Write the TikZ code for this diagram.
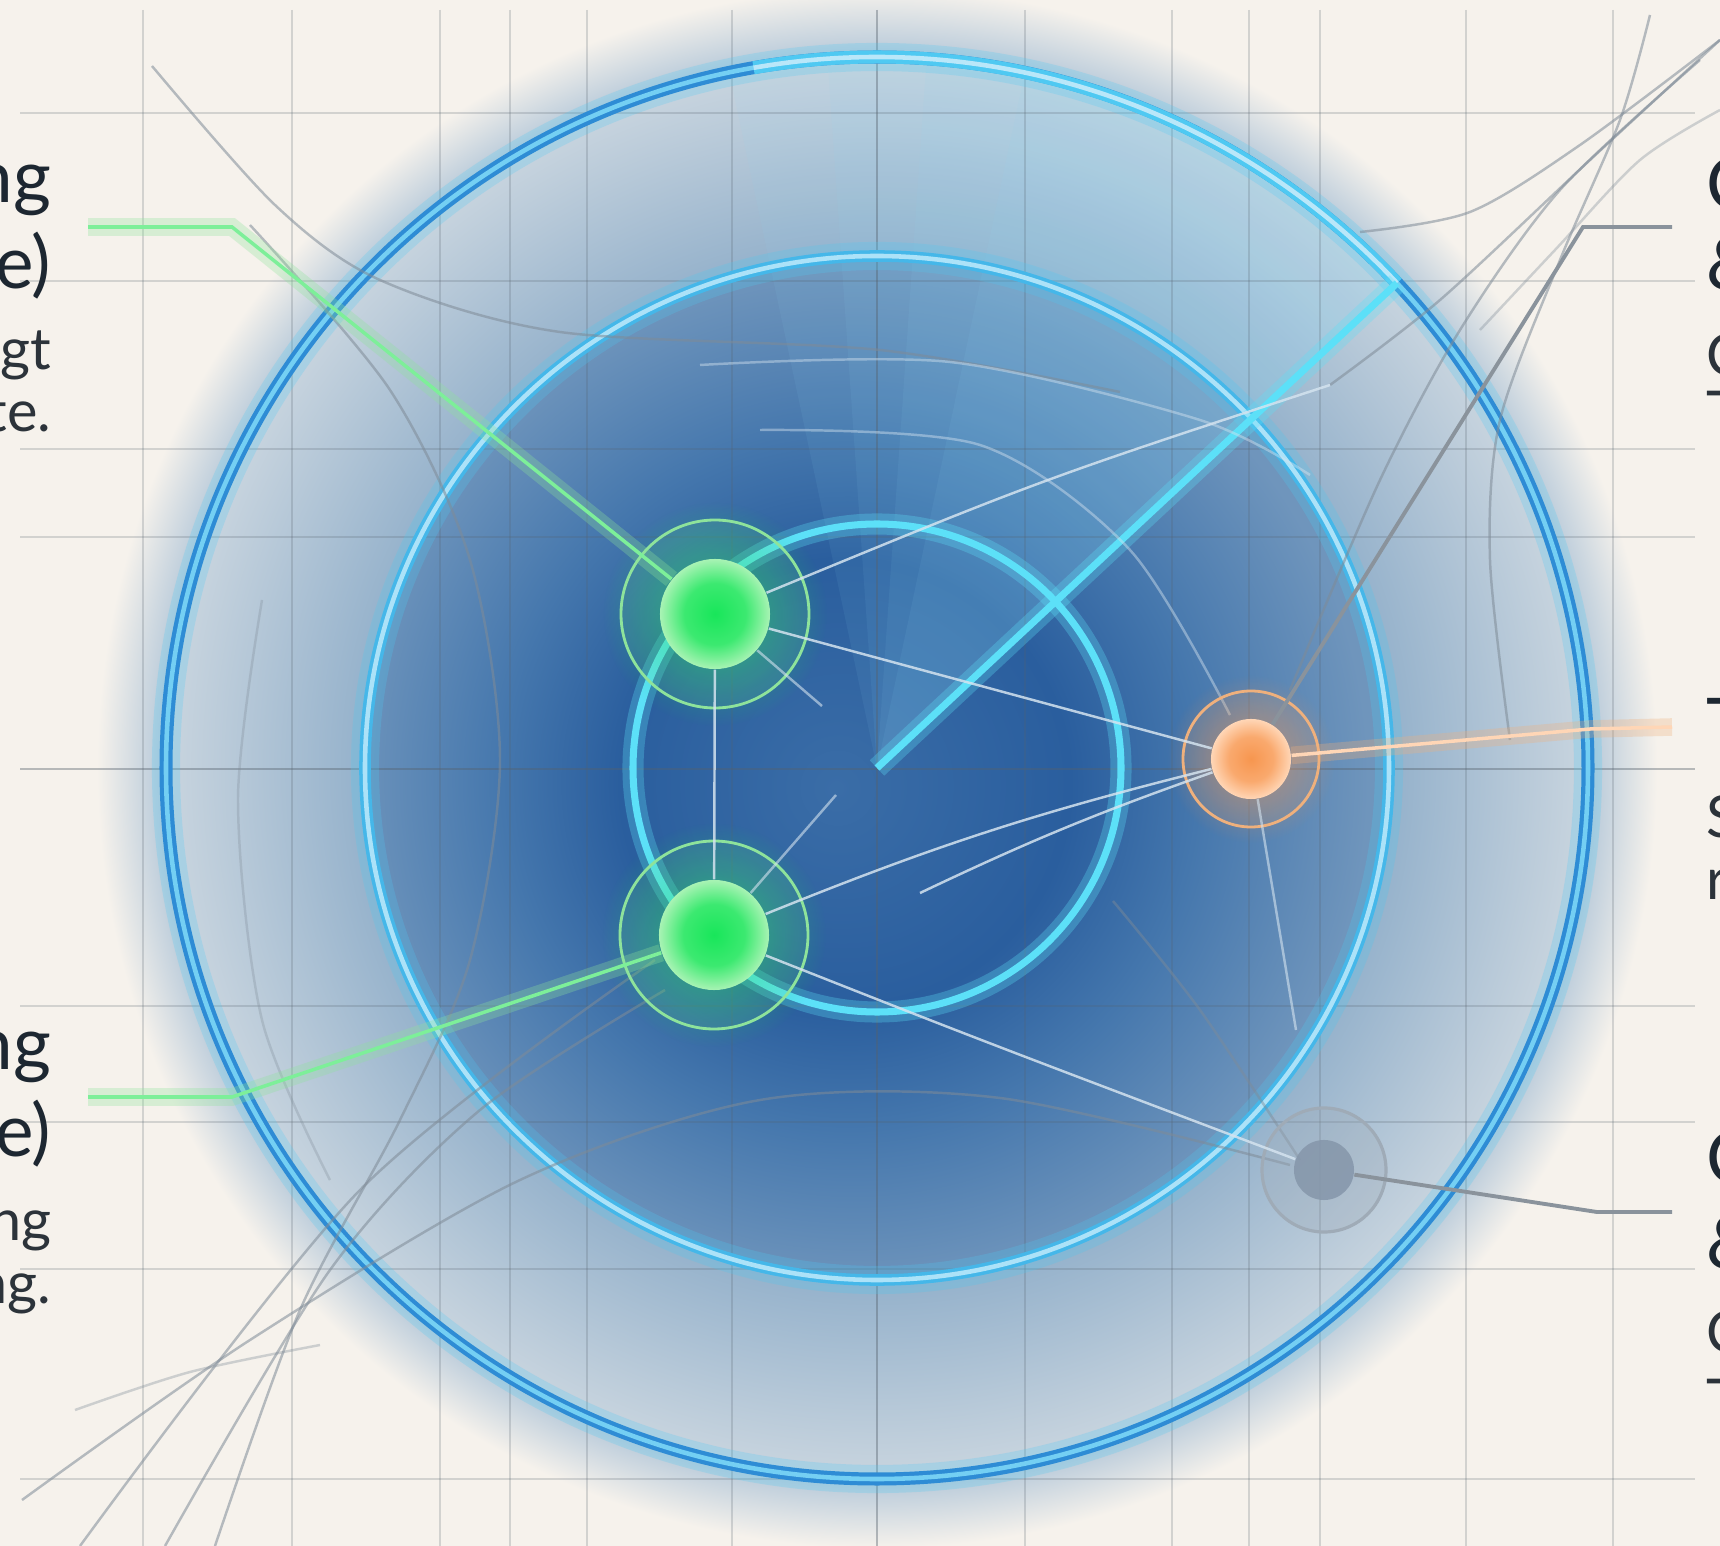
\documentclass[tikz,border=0pt]{standalone}
\usepackage{fontspec}
\setmainfont{Lato}
\usetikzlibrary{positioning,fadings}

\definecolor{paper}{HTML}{F6F2EC}
\definecolor{gridc}{HTML}{56616C}
\definecolor{hazeA}{HTML}{B5C8D9}
\definecolor{annOut}{HTML}{C9D5DF}
\definecolor{annIn}{HTML}{94B1CB}
\definecolor{diskEdge}{HTML}{6F95BC}
\definecolor{diskMid}{HTML}{4577AD}
\definecolor{diskDark}{HTML}{2A5E9E}
\definecolor{ringDark}{HTML}{2E8CD5}
\definecolor{ringLight}{HTML}{74CFF3}
\definecolor{ringCyan}{HTML}{4FC9F2}
\definecolor{cyanLine}{HTML}{5CE0F8}
\definecolor{wedgeC}{HTML}{8FD8F6}
\definecolor{greenCore}{HTML}{18E65A}
\definecolor{greenEdge}{HTML}{A8F3B4}
\definecolor{greenHalo}{HTML}{8EE39B}
\definecolor{orangeCore}{HTML}{F7964F}
\definecolor{orangeEdge}{HTML}{FFD6B6}
\definecolor{orangeHalo}{HTML}{EFB07C}
\definecolor{grayDot}{HTML}{8596AA}
\definecolor{grayHalo}{HTML}{9FABB7}
\definecolor{flowc}{HTML}{7F8B97}
\definecolor{threadc}{HTML}{D4E3EF}
\definecolor{wireGray}{HTML}{8A939C}
\definecolor{inkTitle}{HTML}{1D2731}
\definecolor{inkBody}{HTML}{2C333A}

% radial shadings: 25bp is the rim of the shaded path
\pgfdeclareradialshading{haze}{\pgfpoint{0bp}{0bp}}{color(0bp)=(hazeA); color(22.8bp)=(hazeA); color(25bp)=(paper); color(50bp)=(paper)}
\pgfdeclareradialshading{annulus}{\pgfpoint{0bp}{0bp}}{color(0bp)=(annIn); color(18bp)=(annIn); color(25bp)=(annOut); color(50bp)=(annOut)}
\pgfdeclareradialshading{core}{\pgfpoint{-2bp}{-1bp}}{color(0bp)=(diskMid!60!diskDark); color(11bp)=(diskDark); color(17bp)=(diskMid); color(25bp)=(diskEdge); color(50bp)=(diskEdge)}
\pgfdeclareradialshading{gball}{\pgfpoint{0bp}{0bp}}{color(0bp)=(greenCore); color(14bp)=(greenCore!75!greenEdge); color(25bp)=(greenEdge); color(50bp)=(greenEdge)}
\pgfdeclareradialshading{oball}{\pgfpoint{0bp}{0bp}}{color(0bp)=(orangeCore); color(14bp)=(orangeCore!70!orangeEdge); color(25bp)=(orangeEdge); color(50bp)=(orangeEdge)}
\tikzfading[name=glowfade, inner color=transparent!40, outer color=transparent!100]

\begin{document}
\begin{tikzpicture}[x=0.01cm, y=-0.01cm,
  gridln/.style={draw=gridc, opacity=0.22, line width=0.5pt},
  axisln/.style={draw=gridc, opacity=0.4, line width=0.6pt},
  ringglow/.style={draw=ringCyan, opacity=0.25, line width=8pt},
  outerring/.style={draw=ringDark, line width=1.2pt, double=ringLight, double distance=1.3pt},
  midring/.style={draw=ringCyan!70!ringDark, line width=1pt, double=ringLight!60!white, double distance=1.3pt},
  litring/.style={draw=ringCyan, line width=1.2pt, double=ringLight!50!white, double distance=1.3pt},
  cyanglow/.style={draw=cyanLine, opacity=0.3, line width=6pt},
  cyanring/.style={draw=cyanLine, line width=2pt},
  flow/.style={draw=flowc, opacity=0.55, line width=0.7pt},
  thread/.style={draw=threadc, opacity=0.85, line width=0.7pt},
  gwire/.style={draw=greenEdge!70!greenCore, line width=1pt, preaction={draw=greenHalo, opacity=0.3, line width=5pt}},
  owire/.style={draw=orangeEdge, line width=1pt, preaction={draw=orangeHalo, opacity=0.3, line width=5pt}},
  ywire/.style={draw=wireGray, line width=1.1pt},
  gdot/.style={circle, minimum size=1.1cm, inner sep=0pt, shading=gball},
  odot/.style={circle, minimum size=0.8cm, inner sep=0pt, shading=oball},
  ydot/.style={circle, minimum size=0.6cm, inner sep=0pt, fill=grayDot, fill opacity=0.85},
  ttl/.style={font=\fontsize{20.7pt}{24pt}\selectfont, text=inkTitle, inner sep=0pt},
  bdy/.style={font=\fontsize{16.4pt}{19pt}\selectfont, text=inkBody, inner sep=0pt}]

% canvas
\useasboundingbox (0,0) rectangle (1720,1546);
\clip (0,0) rectangle (1720,1546);
\fill[paper] (0,0) rectangle (1720,1546);
\coordinate (cc) at (877,768);

% discs
\shade[shading=haze] (cc) circle (780);
\shade[shading=annulus] (cc) circle (711);
\shade[shading=core] (cc) circle (512);
% lit sector, soft edge
\foreach \ea in {-78,-86,-94,-102}
  \fill[wedgeC, opacity=0.08] (cc) -- ++(-43:711) arc[start angle=-43, end angle=\ea, radius=711] -- cycle;

% grid
\foreach \gx in {143,292,440,510,587,732,1025,1172,1249,1320,1466,1613}
  \draw[gridln] (\gx,10) -- (\gx,1546);
\foreach \gy in {113,281,449,537,1006,1122,1269,1479}
  \draw[gridln] (20,\gy) -- (1695,\gy);
\draw[axisln] (877,10) -- (877,1546);
\draw[axisln] (20,769) -- (1695,769);

% rings
\draw[ringglow] (cc) circle (711);
\draw[outerring] (cc) circle (711);
\draw[litring] (cc) ++(-43:711) arc[start angle=-43, end angle=-100, radius=711];
\draw[ringglow] (cc) circle (512);
\draw[midring] (cc) circle (512);
\draw[cyanglow] (cc) circle (244);
\draw[cyanring] (cc) circle (244);
\draw[cyanglow] (cc) -- ++(-43:711);
\draw[cyanring] (cc) -- ++(-43:711);

% flow lines
\draw[flow] plot[smooth] coordinates {(152,66) (275,205) (380,280) (560,332) (880,350) (1120,392)};
\draw[flow] plot[smooth] coordinates {(250,225) (390,390) (470,560) (500,760) (470,960) (400,1120) (300,1310) (215,1546)};
\draw[flow, opacity=0.3] plot[smooth] coordinates {(262,600) (238,800) (262,1020) (330,1180)};
\draw[flow] plot[smooth] coordinates {(80,1546) (360,1190) (655,960)};
\draw[flow] plot[smooth] coordinates {(165,1546) (330,1270) (480,1110) (665,990)};
\draw[flow] plot[smooth] coordinates {(22,1500) (250,1340) (520,1180) (760,1100) (1000,1098) (1290,1165)};
\draw[flow, opacity=0.35] plot[smooth] coordinates {(75,1410) (190,1372) (320,1345)};
\draw[flow] plot[smooth] coordinates {(1720,40) (1580,145) (1470,212) (1360,232)};
\draw[flow] plot[smooth] coordinates {(1720,40) (1590,160) (1440,300) (1330,385)};
\draw[flow] plot[smooth] coordinates {(1700,60) (1560,190) (1460,330) (1380,480) (1290,690)};
\draw[flow] plot[smooth] coordinates {(1650,15) (1620,120) (1560,260) (1500,420) (1490,560) (1510,740)};
\draw[flow, opacity=0.35] plot[smooth] coordinates {(1720,110) (1640,160) (1555,250) (1480,330)};
\draw[thread, opacity=0.45] plot[smooth] coordinates {(700,365) (950,362) (1200,420) (1310,475)};
\draw[thread, opacity=0.45] plot[smooth] coordinates {(760,430) (980,445) (1130,550) (1230,715)};
\draw[flow, opacity=0.45] plot[smooth] coordinates {(1113,901) (1200,1010) (1300,1160)};

% markers
\foreach \n/\pos in {g1/{(715,614)}, g2/{(714,935)}} {
  \fill[greenCore, path fading=glowfade] \pos circle (112);
  \fill[greenHalo, opacity=0.1] \pos circle (94);
  \draw[greenHalo, line width=0.8pt] \pos circle (94);
  \node[gdot] (\n) at \pos {};
}
\fill[orangeCore, path fading=glowfade] (1251,759) circle (84);
\fill[orangeHalo, opacity=0.1] (1251,759) circle (68);
\draw[orangeHalo, line width=0.8pt] (1251,759) circle (68);
\node[odot] (org) at (1251,759) {};
\fill[grayHalo, opacity=0.3] (1324,1170) circle (62);
\draw[grayHalo, line width=0.9pt] (1324,1170) circle (62);
\node[ydot] (gry) at (1324,1170) {};

% threads between markers
\coordinate (t1) at (920,893);
\coordinate (t2) at (1330,385);
\coordinate (t3) at (1296,1030);
\draw[thread] (g1) -- (g2);
\draw[thread] (g1) -- (org);
\draw[thread] (g2) to[bend left=4] (org);
\draw[thread] (t1) to[bend left=3] (org);
\draw[thread] (g1) .. controls (1040,480) .. (t2);
\draw[thread] (g2) .. controls (980,1040) .. (gry);
\draw[thread, opacity=0.6] (org) -- (t3);
\draw[thread, opacity=0.6] (g1) -- (822,706);
\draw[thread, opacity=0.6] (g2) -- (836,795);

% label wires
\coordinate (wa) at (88,227);
\coordinate (wb) at (88,1097);
\coordinate (wc) at (1672,227);
\coordinate (wd) at (1672,727);
\coordinate (we) at (1672,1212);
\draw[gwire] (wa) -- (232,227) -- (g1);
\draw[gwire] (wb) -- (232,1097) -- (g2);
\draw[ywire] (wc) -- (1583,227) -- (org);
\draw[owire] (org) -- (1590,729) -- (wd);
\draw[ywire] (gry) -- (1597,1212) -- (we);

% labels, left side
\node[ttl, anchor=base east] (la1) at (52,203) {ng};
\node[ttl, anchor=base east] (la2) at (52,289) {e)};
\node[bdy, anchor=base east] (la3) at (52,370) {igt};
\node[bdy, anchor=base east] (la4) at (52,432) {te.};
\node[ttl, anchor=base east] (lb1) at (52,1070) {ng};
\node[ttl, anchor=base east] (lb2) at (52,1156) {e)};
\node[bdy, anchor=base east] (lb3) at (52,1241) {ng};
\node[bdy, anchor=base east] (lb4) at (52,1303) {ng.};

% labels, right side
\node[ttl, anchor=base west] (ra1) at (1706,210) {C};
\node[ttl, anchor=base west] (ra2) at (1706,290) {\&};
\node[bdy, anchor=base west] (ra3) at (1706,376) {C};
\node[bdy, anchor=base west] (ra4) at (1706,433) {T};
\node[ttl, anchor=base west] (rb1) at (1706,751) {T};
\node[bdy, anchor=base west] (rb2) at (1706,838) {S};
\node[bdy, anchor=base west] (rb3) at (1706,900) {r};
\node[ttl, anchor=base west] (rc1) at (1706,1183) {C};
\node[ttl, anchor=base west] (rc2) at (1706,1268) {\&};
\node[bdy, anchor=base west] (rc3) at (1706,1352) {C};
\node[bdy, anchor=base west] (rc4) at (1706,1420) {T};
\end{tikzpicture}
\end{document}
